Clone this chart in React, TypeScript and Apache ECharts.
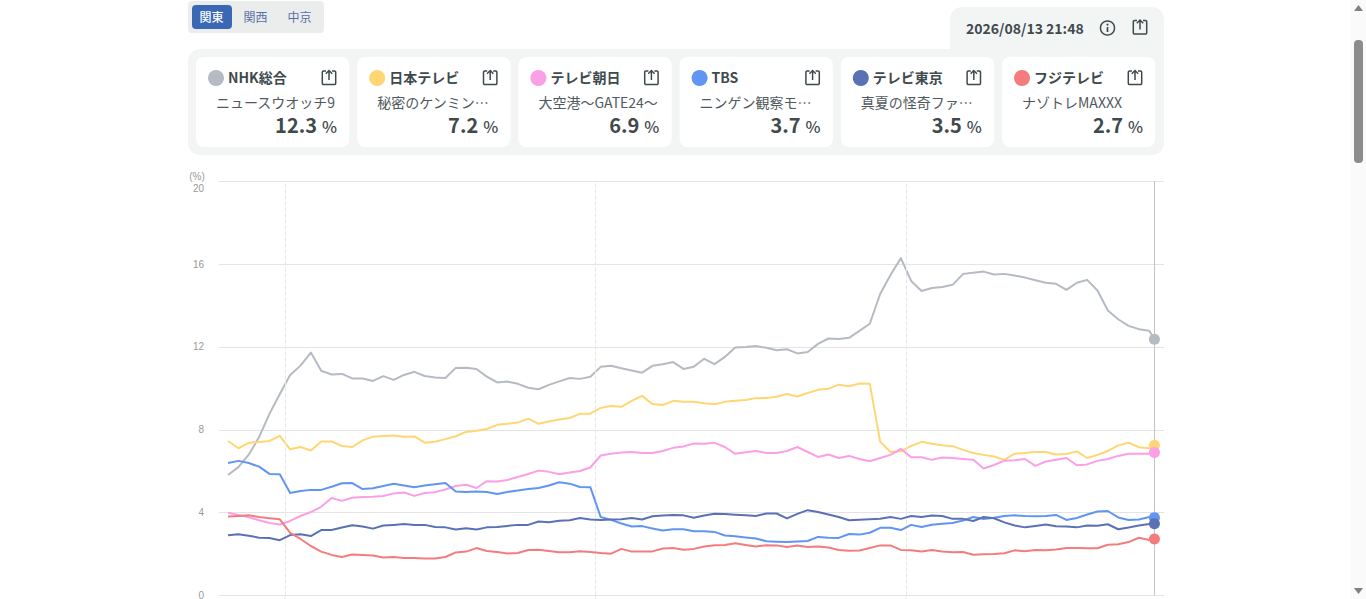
import React, { useEffect, useRef } from "react";
import * as echarts from "echarts";

const FONT = '"Noto Sans CJK JP", "Noto Sans", sans-serif';

// Sample times, minutes after 19:00, one sample every two minutes plus the latest reading.
const sampleMinutes = [
  -11, -9, -7, -5, -3, -1, 1, 3, 5, 7, 9, 11, 13, 15, 17, 19, 21, 23, 25, 27, 29, 31, 33, 35, 37, 39, 41, 43, 45, 47,
  49, 51, 53, 55, 57, 59, 61, 63, 65, 67, 69, 71, 73, 75, 77, 79, 81, 83, 85, 87, 89, 91, 93, 95, 97, 99, 101, 103, 105, 107,
  109, 111, 113, 115, 117, 119, 121, 123, 125, 127, 129, 131, 133, 135, 137, 139, 141, 143, 145, 147, 149, 151, 153, 155, 157, 159, 161, 163, 165, 167,
  168,
];
const hourMinutes = [0, 60, 120];
const latestMinute = 168;
const yTicks = [0, 4, 8, 12, 16, 20];

const nhk = [
  5.82, 6.2, 6.8, 7.65, 8.77, 9.73, 10.65, 11.1, 11.73, 10.85, 10.67, 10.7, 10.48, 10.48, 10.36, 10.59, 10.41, 10.65, 10.8, 10.6, 10.53, 10.5, 10.99, 11.0, 10.94, 10.57, 10.29, 10.33, 10.22, 10.03,
  9.96, 10.17, 10.34, 10.5, 10.46, 10.56, 11.04, 11.09, 10.97, 10.86, 10.76, 11.09, 11.17, 11.27, 10.94, 11.05, 11.43, 11.17, 11.52, 11.98, 12.0, 12.05, 11.96, 11.84, 11.89, 11.69, 11.76, 12.15, 12.41, 12.38,
  12.44, 12.78, 13.12, 14.56, 15.48, 16.29, 15.19, 14.7, 14.85, 14.9, 15.0, 15.52, 15.59, 15.64, 15.5, 15.53, 15.45, 15.35, 15.22, 15.1, 15.05, 14.76, 15.1, 15.24, 14.73, 13.76, 13.34, 13.02, 12.86, 12.78,
  12.37,
];
const ntv = [
  7.46, 7.11, 7.37, 7.41, 7.46, 7.71, 7.06, 7.17, 7.0, 7.44, 7.44, 7.22, 7.17, 7.49, 7.67, 7.7, 7.73, 7.66, 7.68, 7.38, 7.42, 7.55, 7.69, 7.9, 7.95, 8.04, 8.24, 8.29, 8.35, 8.54,
  8.29, 8.4, 8.5, 8.57, 8.77, 8.78, 9.06, 9.15, 9.11, 9.4, 9.64, 9.25, 9.2, 9.4, 9.35, 9.35, 9.28, 9.23, 9.35, 9.4, 9.44, 9.53, 9.54, 9.6, 9.73, 9.61, 9.78, 9.93, 9.98, 10.18,
  10.1, 10.24, 10.23, 7.43, 6.93, 6.96, 7.22, 7.42, 7.33, 7.25, 7.21, 7.03, 6.88, 6.79, 6.71, 6.55, 6.85, 6.88, 6.93, 6.93, 6.81, 6.83, 6.96, 6.64, 6.79, 6.98, 7.25, 7.38, 7.16, 7.11,
  7.25,
];
const asahi = [
  4.0, 3.89, 3.78, 3.63, 3.5, 3.43, 3.6, 3.84, 4.03, 4.28, 4.71, 4.57, 4.72, 4.76, 4.77, 4.8, 4.93, 4.97, 4.81, 4.95, 4.99, 5.12, 5.29, 5.35, 5.19, 5.52, 5.51, 5.58, 5.72, 5.87,
  6.03, 5.97, 5.85, 5.94, 6.01, 6.18, 6.76, 6.84, 6.91, 6.93, 6.88, 6.88, 6.98, 7.13, 7.2, 7.34, 7.33, 7.37, 7.17, 6.84, 6.92, 6.98, 6.88, 6.88, 6.98, 7.17, 6.93, 6.69, 6.81, 6.64,
  6.74, 6.59, 6.48, 6.64, 6.79, 7.08, 6.68, 6.68, 6.55, 6.66, 6.64, 6.59, 6.55, 6.13, 6.3, 6.51, 6.53, 6.59, 6.26, 6.47, 6.55, 6.64, 6.29, 6.33, 6.5, 6.59, 6.74, 6.84, 6.84, 6.84,
  6.9,
];
const tbs = [
  6.4, 6.5, 6.4, 6.22, 5.87, 5.85, 4.95, 5.05, 5.1, 5.1, 5.25, 5.42, 5.43, 5.14, 5.18, 5.29, 5.4, 5.31, 5.23, 5.31, 5.37, 5.43, 5.02, 5.0, 5.02, 5.0, 4.9, 5.0, 5.07, 5.14,
  5.19, 5.31, 5.47, 5.4, 5.24, 5.23, 3.79, 3.65, 3.48, 3.33, 3.35, 3.24, 3.14, 3.2, 3.2, 3.1, 3.1, 3.07, 2.9, 2.86, 2.8, 2.75, 2.62, 2.6, 2.58, 2.61, 2.63, 2.83, 2.79, 2.78,
  2.97, 2.94, 3.03, 3.27, 3.27, 3.16, 3.41, 3.31, 3.42, 3.47, 3.5, 3.62, 3.79, 3.69, 3.75, 3.84, 3.87, 3.84, 3.83, 3.84, 3.89, 3.65, 3.74, 3.91, 4.06, 4.08, 3.77, 3.65, 3.67, 3.79,
  3.76,
];
const txn = [
  2.91, 2.96, 2.89, 2.79, 2.78, 2.67, 2.92, 2.96, 2.87, 3.16, 3.16, 3.28, 3.39, 3.33, 3.23, 3.38, 3.41, 3.45, 3.41, 3.41, 3.31, 3.29, 3.19, 3.25, 3.19, 3.29, 3.31, 3.36, 3.41, 3.41,
  3.57, 3.54, 3.61, 3.63, 3.74, 3.67, 3.65, 3.67, 3.68, 3.74, 3.67, 3.83, 3.86, 3.89, 3.87, 3.75, 3.86, 3.95, 3.94, 3.9, 3.87, 3.84, 3.96, 3.96, 3.72, 3.94, 4.12, 4.03, 3.91, 3.79,
  3.63, 3.66, 3.68, 3.71, 3.79, 3.7, 3.84, 3.79, 3.86, 3.84, 3.7, 3.7, 3.6, 3.79, 3.73, 3.53, 3.38, 3.29, 3.36, 3.43, 3.34, 3.33, 3.29, 3.38, 3.37, 3.44, 3.2, 3.28, 3.38, 3.45,
  3.47,
];
const fuji = [
  3.81, 3.84, 3.87, 3.79, 3.73, 3.68, 3.02, 2.73, 2.39, 2.12, 1.96, 1.86, 1.98, 1.96, 1.93, 1.83, 1.86, 1.81, 1.81, 1.79, 1.79, 1.86, 2.08, 2.12, 2.29, 2.15, 2.1, 2.03, 2.05, 2.2,
  2.21, 2.15, 2.09, 2.09, 2.14, 2.1, 2.05, 2.02, 2.25, 2.12, 2.13, 2.13, 2.27, 2.29, 2.21, 2.25, 2.37, 2.43, 2.44, 2.52, 2.44, 2.37, 2.43, 2.42, 2.34, 2.41, 2.34, 2.37, 2.32, 2.2,
  2.16, 2.17, 2.29, 2.42, 2.42, 2.2, 2.18, 2.13, 2.2, 2.13, 2.09, 2.1, 1.97, 1.99, 2.0, 2.04, 2.18, 2.14, 2.2, 2.18, 2.22, 2.29, 2.29, 2.28, 2.28, 2.45, 2.47, 2.58, 2.79, 2.68,
  2.73,
];

const channels = ["NHK総合", "日本テレビ", "テレビ朝日", "TBS", "テレビ東京", "フジテレビ"];
const programmes = ["ニュースウオッチ9", "秘密のケンミン…", "大空港〜GATE24〜", "ニンゲン観察モ…", "真夏の怪奇ファ…", "ナゾトレMAXXX"];
const ratings = ["12.3", "7.2", "6.9", "3.7", "3.5", "2.7"];
const colors = ["#b5bac3", "#ffd673", "#fb9fe6", "#6195f4", "#5a71b5", "#f47c7c"];
const seriesValues = [nhk, ntv, asahi, tbs, txn, fuji];
const regions = ["関東", "関西", "中京"];
const timestamp = "2026/08/13 21:48";

echarts.graphic.registerShape(
  "shareIcon",
  echarts.graphic.extendPath(
    "M5 1.5H2.5a1.2 1.2 0 0 0-1.2 1.2v11.1a1.2 1.2 0 0 0 1.2 1.2h11a1.2 1.2 0 0 0 1.2-1.2V2.7a1.2 1.2 0 0 0-1.2-1.2H11M8 10.5V1M4.8 4.2L8 1L11.2 4.2",
    {}
  )
);

const INK = "#3f4a4e";

function txt(x: number, y: number, text: string, font: string, fill: string, align = "left") {
  return { type: "text", silent: true, style: { x, y, text, font, fill, align, verticalAlign: "middle" } };
}
function rect(x: number, y: number, width: number, height: number, r: number | number[], fill: string) {
  return { type: "rect", silent: true, shape: { x, y, width, height, r }, style: { fill } };
}
function share(x: number, y: number) {
  return { type: "shareIcon", silent: true, x, y, style: { fill: "none", stroke: INK, lineWidth: 1.5 } };
}

function buildGraphics() {
  const els: any[] = [];
  // Region tabs
  els.push(rect(188, 1, 136, 32, 4, "#ebeded"));
  els.push(rect(192, 5, 40, 24, 4, "#3a68b4"));
  regions.forEach((r, i) => {
    const cx = [211.5, 255.5, 299.5][i];
    els.push(txt(cx, 16.5, r, `${i === 0 ? 500 : 400} 12px ${FONT}`, i === 0 ? "#ffffff" : "#5a6fa6", "center"));
  });
  // Panel
  els.push(rect(950, 7, 214, 50, [12, 12, 0, 0], "#f3f5f5"));
  els.push(rect(188, 49, 976, 106, [12, 0, 12, 12], "#f3f5f5"));
  els.push(txt(966, 27.5, timestamp, `700 14px ${FONT}`, INK));
  els.push({ type: "circle", silent: true, shape: { cx: 1107.5, cy: 28, r: 7 }, style: { fill: "none", stroke: INK, lineWidth: 1.5 } });
  els.push({ type: "circle", silent: true, shape: { cx: 1107.5, cy: 24.6, r: 1 }, style: { fill: INK } });
  els.push({ type: "line", silent: true, shape: { x1: 1107.5, y1: 27, x2: 1107.5, y2: 32 }, style: { stroke: INK, lineWidth: 1.7 } });
  els.push(share(1132, 19));
  // Cards
  const cardX = [196, 357.2, 518.4, 679.6, 840.8, 1002];
  channels.forEach((name, i) => {
    const x = cardX[i];
    els.push(rect(x, 57, 153.2, 90, 8, "#ffffff"));
    els.push({ type: "circle", silent: true, shape: { cx: x + 20, cy: 78, r: 8 }, style: { fill: colors[i] } });
    els.push(txt(x + 32, 77, name, `700 14px ${FONT}`, INK));
    els.push(share(x + 125, 69.5));
    els.push(txt(x + 20, 101.5, programmes[i], `400 14px ${FONT}`, "#50595d"));
    els.push(txt(x + 121, 124.5, ratings[i], `700 20px ${FONT}`, INK, "right"));
    els.push(txt(x + 141, 126, "%", `500 16px ${FONT}`, INK, "right"));
  });
  els.push(txt(197, 176, "(%)", `10px "Liberation Sans", sans-serif`, "#999999", "center"));
  // The hour guides run on below the zero line
  [285, 595.5, 906].forEach((x) => {
    els.push({ type: "line", silent: true, shape: { x1: x, y1: 596.5, x2: x, y2: 599 }, style: { stroke: "#e6e6e6", lineWidth: 1 } });
  });
  // Page scrollbar
  els.push(rect(1351, 0, 15, 599, 0, "#fafafa"));
  els.push(rect(1354, 40, 9, 123, 4, "#8c8c8c"));
  els.push({ type: "polygon", silent: true, shape: { points: [[1358.5, 5], [1363, 11], [1354, 11]] }, style: { fill: "#808080" } });
  els.push({ type: "polygon", silent: true, shape: { points: [[1354, 588], [1363, 588], [1358.5, 594]] }, style: { fill: "#808080" } });
  return els;
}

export default function App() {
  const ref = useRef<HTMLDivElement>(null);
  useEffect(() => {
    document.body.style.margin = "0";
    document.body.style.background = "#ffffff";
    const chart = echarts.init(ref.current!, undefined, { renderer: "svg" });
    const lineSeries = channels.map((name, i) => ({
      name,
      type: "line",
      data: seriesValues[i].map((v, k) => [sampleMinutes[k], v]),
      showSymbol: false,
      symbol: "none",
      lineStyle: { color: colors[i], width: 2, join: "round" },
      itemStyle: { color: colors[i] },
      silent: true,
      z: 3 + i,
      ...(i === 0
        ? {
            markLine: {
              silent: true,
              symbol: "none",
              label: { show: false },
              animation: false,
              data: [
                ...hourMinutes.map((m) => ({ xAxis: m, lineStyle: { color: "#e6e6e6", type: "dashed", width: 1 } })),
                { xAxis: latestMinute, lineStyle: { color: "#c4c4c4", type: "solid", width: 1 } },
              ],
            },
          }
        : {}),
    }));
    const dotSeries = channels.map((name, i) => ({
      name: name + "現在",
      type: "scatter",
      data: [[latestMinute, seriesValues[i][seriesValues[i].length - 1]]],
      symbol: "circle",
      symbolSize: 11,
      itemStyle: { color: colors[i], opacity: 1 },
      silent: true,
      z: 20 + i,
    }));
    chart.setOption({
      animation: false,
      backgroundColor: "#ffffff",
      tooltip: { show: false },
      legend: { show: false },
      grid: { left: 219, right: 202, top: 181.3, bottom: 3.5, containLabel: false, outerBoundsMode: "none" },
      xAxis: {
        type: "value",
        min: -12.75,
        max: 169.85,
        axisLine: { show: false },
        axisTick: { show: false },
        axisLabel: { show: false },
        splitLine: { show: false },
      },
      yAxis: {
        type: "value",
        min: yTicks[0],
        max: yTicks[yTicks.length - 1],
        interval: 4,
        axisLine: { show: false },
        axisTick: { show: false },
        axisLabel: {
          color: "#999999",
          fontSize: 10,
          fontFamily: '"Liberation Sans", sans-serif',
          margin: 15,
          padding: [2, 0, 0, 0],
          verticalAlignMaxLabel: "top",
        },
        splitLine: { show: true, lineStyle: { color: "#e4e4e4", width: 1 } },
      },
      graphic: { elements: buildGraphics() },
      series: [...lineSeries, ...dotSeries],
    });
    return () => chart.dispose();
  }, []);
  return (
    <div
      ref={ref}
      style={{ position: "fixed", left: 0, top: 0, width: 1366, height: 599, overflow: "hidden" }}
    />
  );
}
